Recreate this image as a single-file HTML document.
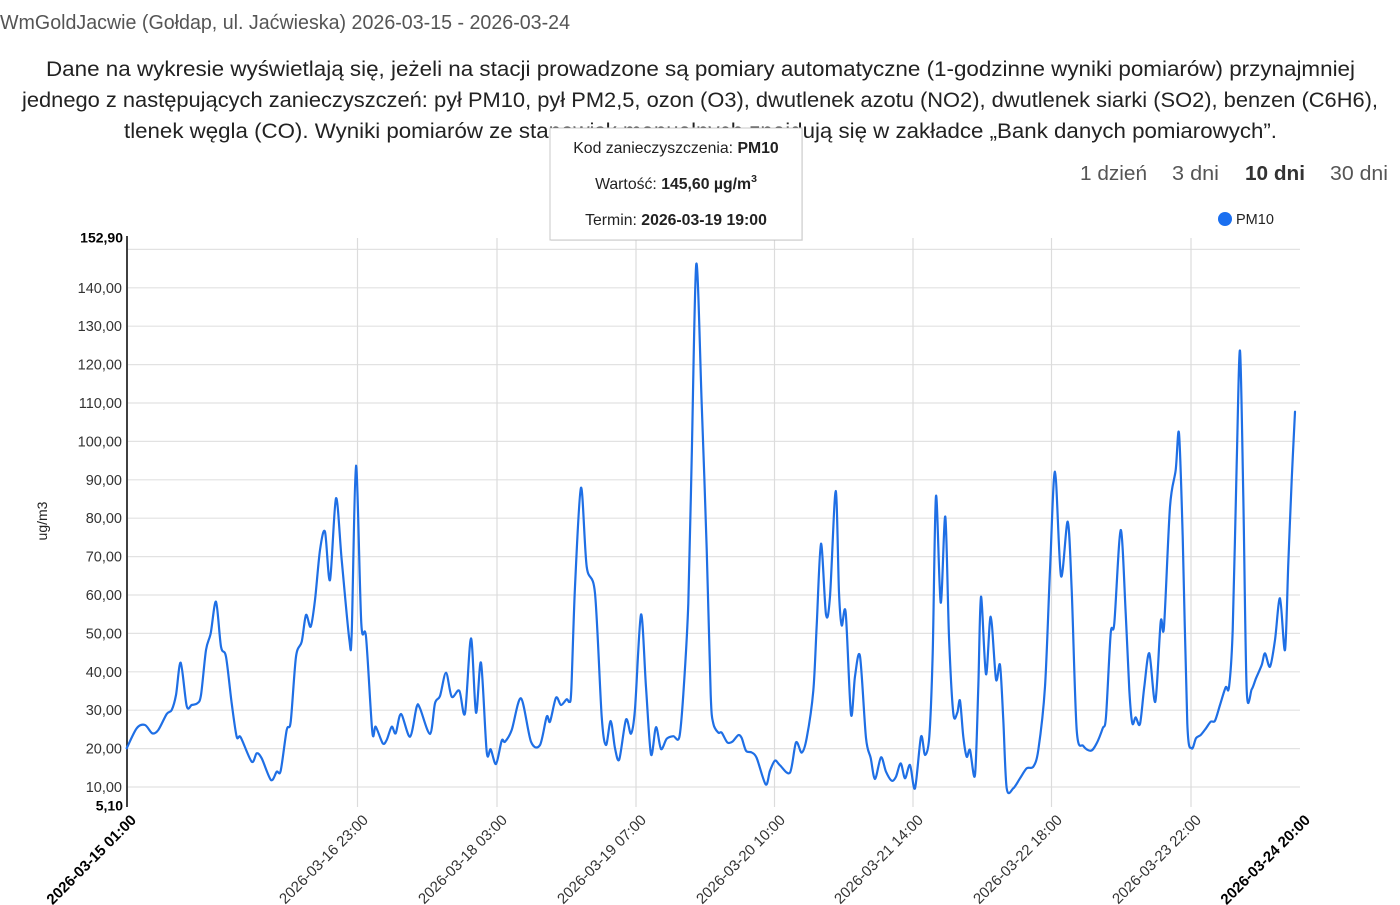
<!DOCTYPE html>
<html>
<head>
<meta charset="utf-8">
<style>
  html,body{margin:0;padding:0;background:#fff;}
  body{width:1400px;height:905px;overflow:hidden;}
  svg{display:block;}
  .t{font-family:"Liberation Sans",Arial,sans-serif;}
</style>
</head>
<body>
<svg width="1400" height="905" viewBox="0 0 1400 905" xmlns="http://www.w3.org/2000/svg">
  <!-- Header texts -->
  <text class="t" x="0" y="29" font-size="20" fill="#555" textLength="570" lengthAdjust="spacingAndGlyphs">WmGoldJacwie (Gołdap, ul. Jaćwieska) 2026-03-15 - 2026-03-24</text>
  <text class="t" x="46" y="76" font-size="21" fill="#222" textLength="1309" lengthAdjust="spacingAndGlyphs">Dane na wykresie wyświetlają się, jeżeli na stacji prowadzone są pomiary automatyczne (1-godzinne wyniki pomiarów) przynajmniej</text>
  <text class="t" x="22" y="107" font-size="21" fill="#222" textLength="1356" lengthAdjust="spacingAndGlyphs">jednego z następujących zanieczyszczeń: pył PM10, pył PM2,5, ozon (O3), dwutlenek azotu (NO2), dwutlenek siarki (SO2), benzen (C6H6),</text>
  <text class="t" x="124" y="138" font-size="21" fill="#222" textLength="1153" lengthAdjust="spacingAndGlyphs">tlenek węgla (CO). Wyniki pomiarów ze stanowisk manualnych znajdują się w zakładce „Bank danych pomiarowych”.</text>

  <!-- Range selector -->
  <text class="t" x="1080" y="180" font-size="20" fill="#555" textLength="67" lengthAdjust="spacingAndGlyphs">1 dzień</text>
  <text class="t" x="1172" y="180" font-size="20" fill="#555" textLength="47" lengthAdjust="spacingAndGlyphs">3 dni</text>
  <text class="t" x="1245" y="180" font-size="20" fill="#333" font-weight="bold" textLength="60" lengthAdjust="spacingAndGlyphs">10 dni</text>
  <text class="t" x="1330" y="180" font-size="20" fill="#555" textLength="58" lengthAdjust="spacingAndGlyphs">30 dni</text>

  <!-- Legend -->
  <circle cx="1225" cy="219" r="7" fill="#1a6ff0"/>
  <text class="t" x="1236" y="224" font-size="14.5" fill="#222">PM10</text>

  <!-- Horizontal gridlines -->
  <g stroke="#e2e2e2" stroke-width="1.2">
    <line x1="128" y1="249.4" x2="1300" y2="249.4"/>
    <line x1="128" y1="287.8" x2="1300" y2="287.8"/>
    <line x1="128" y1="326.2" x2="1300" y2="326.2"/>
    <line x1="128" y1="364.6" x2="1300" y2="364.6"/>
    <line x1="128" y1="403" x2="1300" y2="403"/>
    <line x1="128" y1="441.4" x2="1300" y2="441.4"/>
    <line x1="128" y1="479.8" x2="1300" y2="479.8"/>
    <line x1="128" y1="518.2" x2="1300" y2="518.2"/>
    <line x1="128" y1="556.6" x2="1300" y2="556.6"/>
    <line x1="128" y1="595" x2="1300" y2="595"/>
    <line x1="128" y1="633.4" x2="1300" y2="633.4"/>
    <line x1="128" y1="671.8" x2="1300" y2="671.8"/>
    <line x1="128" y1="710.2" x2="1300" y2="710.2"/>
    <line x1="128" y1="748.6" x2="1300" y2="748.6"/>
    <line x1="128" y1="787" x2="1300" y2="787"/>
  </g>
  <!-- Vertical gridlines -->
  <g stroke="#dcdcdc" stroke-width="1.2">
    <line x1="357.5" y1="238" x2="357.5" y2="807"/>
    <line x1="497" y1="238" x2="497" y2="807"/>
    <line x1="636" y1="238" x2="636" y2="807"/>
    <line x1="774.5" y1="238" x2="774.5" y2="807"/>
    <line x1="913" y1="238" x2="913" y2="807"/>
    <line x1="1051.5" y1="238" x2="1051.5" y2="807"/>
    <line x1="1191" y1="238" x2="1191" y2="807"/>
  </g>

  <!-- Y axis -->
  <line x1="127" y1="236" x2="127" y2="807" stroke="#111" stroke-width="1.6"/>
  <g class="t" font-size="14.5" fill="#333" text-anchor="end">
    <text x="122" y="292.8">140,00</text>
    <text x="122" y="331.2">130,00</text>
    <text x="122" y="369.6">120,00</text>
    <text x="122" y="408">110,00</text>
    <text x="122" y="446.4">100,00</text>
    <text x="122" y="484.8">90,00</text>
    <text x="122" y="523.2">80,00</text>
    <text x="122" y="561.6">70,00</text>
    <text x="122" y="600">60,00</text>
    <text x="122" y="638.4">50,00</text>
    <text x="122" y="676.8">40,00</text>
    <text x="122" y="715.2">30,00</text>
    <text x="122" y="753.6">20,00</text>
    <text x="122" y="792">10,00</text>
  </g>
  <g class="t" font-size="14" fill="#000" font-weight="bold" text-anchor="end">
    <text x="123" y="242.5">152,90</text>
    <text x="123" y="810.5">5,10</text>
  </g>
  <text class="t" font-size="14" fill="#222" text-anchor="middle" transform="translate(47,521) rotate(-90)">ug/m3</text>

  <!-- X labels -->
  <g class="t" font-size="15" fill="#333" text-anchor="end">
    <text transform="translate(137,821) rotate(-45)" font-weight="bold" fill="#000">2026-03-15 01:00</text>
    <text transform="translate(369,821) rotate(-45)">2026-03-16 23:00</text>
    <text transform="translate(508,821) rotate(-45)">2026-03-18 03:00</text>
    <text transform="translate(647,821) rotate(-45)">2026-03-19 07:00</text>
    <text transform="translate(786,821) rotate(-45)">2026-03-20 10:00</text>
    <text transform="translate(924,821) rotate(-45)">2026-03-21 14:00</text>
    <text transform="translate(1063,821) rotate(-45)">2026-03-22 18:00</text>
    <text transform="translate(1202,821) rotate(-45)">2026-03-23 22:00</text>
    <text transform="translate(1311,821) rotate(-45)" font-weight="bold" fill="#000">2026-03-24 20:00</text>
  </g>

  <!-- Series -->
  <polyline id="series" fill="none" stroke="#1f6fe5" stroke-width="2.2" stroke-linejoin="round" stroke-linecap="round"
    points="126.7,748.3 136.7,728.3 145,725 152.3,733.3 158.3,730 166.7,714 171.7,710 176,695 180.7,662.7 186.7,706 191.7,705 197.3,703.3 201,695 206,650 210.7,633.3 216,601.7 221,646.7 226,656.7 231.7,703.3 236.7,736.7 240.7,737.3 251.7,761.7 256.7,753.3 261.7,758.3 271,780 276.7,771.7 280.7,770.7 286.7,730 290.7,721.7 296,656.7 301.7,641.7 306,615 310.7,626.7 315,600 320,550 325,531.7 330,580 336,498.3 341.7,560 349.3,639.3 351.7,633.3 356,465.7 361.3,623.3 366,636.7 372.3,731.7 375.7,726.7 382.7,743.3 386.7,740 391.7,726.7 395.7,733.3 401,714 410,736.7 416.7,706.7 420,708.3 430,734 435,703.3 440,696 446,672.7 451.7,696.7 459.3,690.7 465,713.3 471,638.3 476,712.7 481,662.7 486.7,751.7 490.7,749.3 496,764 501.7,740.7 505,741.7 511.7,730 521,698.3 531,741.7 540,745 546.7,716.7 550,721.7 556,697.7 561,705 566.7,699.3 569.3,701.7 571.3,690 575,586.7 581,487.7 586.7,566.7 595,593.3 601.7,716.7 606,745 610.7,721 615,748.3 619.3,759.3 626,719.6 631,733.7 635,709 641,614.5 646,687.2 651,754.4 656,727.2 661,749 666.7,738.8 673.3,736.2 679.3,737.3 683.3,694.5 688.3,603.6 691.7,458.3 696.3,264 701.7,403.8 706.7,549.1 710.7,694.5 713.3,723.5 718.3,732.6 721.7,732.6 727.3,742.4 732.3,741.7 738.3,735.1 741.7,738 746,750.7 751.7,752.5 756.7,758 765.7,784.5 770,770.7 775,760.6 780,765.3 790,772.6 796,742.4 801.7,752.6 806.7,738 813.3,690.8 816.7,625.4 821,543.7 826,614.5 830,596.4 835.7,491 839,592.7 841.7,625.4 845.7,612.7 851,714.4 855,676.3 860,656.3 866,738 870.7,758 875,779 881,757.3 886,771.7 891.7,780.7 896,776.7 900.7,763.3 905,778.3 910,765 915,788.3 921,736.7 925,755 929.3,736.7 932.7,653.3 936,496 940.7,602.7 945.3,516.7 949,636.7 953.3,713.3 957.3,712.7 960,700.7 963.3,736.7 966.7,756.7 970,750 975,775 978.3,686.7 981,596.7 986,674.3 990.7,616.7 996,679.3 1000,665 1003.3,720 1006.7,788.3 1013.3,788.3 1020,778.3 1026.7,768.3 1033.3,766.7 1038.3,750 1045,686.7 1050,570 1055,471.7 1061,576 1067.7,521.7 1071.7,590 1076.7,730 1083.3,746 1091,750.7 1096.7,743.3 1102.7,728.3 1106,716.7 1110.7,633.3 1114.3,623.3 1120.7,530 1125.7,613.3 1129.3,690 1132.3,723.3 1135.7,717.3 1140,724 1144.3,686.7 1149.3,653.3 1155.3,701.7 1160.7,621.7 1164,626.7 1170,506.7 1175.7,470 1179,433.3 1182.7,536.7 1187.3,723.3 1191.7,748.3 1196,738.3 1200.7,735 1206,728.3 1210.7,721.7 1215,720.7 1220,705 1225.7,687.3 1229,687.3 1232.7,630 1236.7,463.3 1240,350.7 1243.3,496.7 1246.7,690 1251.7,689.3 1256,678.3 1261.7,665 1265,653.3 1270,666.7 1275,640 1280,598.3 1285,650 1288.3,563.3 1291.7,480 1295,411.7"/>

  <!-- Tooltip -->
  <rect x="551" y="129" width="252" height="112" fill="#000" opacity="0.06"/>
  <rect x="550" y="128" width="252" height="112" fill="#fff" stroke="#c8c8c8" stroke-width="1"/>
  <g class="t" font-size="15.8" fill="#222" text-anchor="middle">
    <text x="676" y="153">Kod zanieczyszczenia: <tspan font-weight="bold">PM10</tspan></text>
    <text x="676" y="189">Wartość: <tspan font-weight="bold">145,60 µg/m</tspan><tspan font-weight="bold" font-size="10.5" dy="-7">3</tspan></text>
    <text x="676" y="225">Termin: <tspan font-weight="bold">2026-03-19 19:00</tspan></text>
  </g>
</svg>
<script>
(function(){
  var pl=document.getElementById('series');
  if(!pl) return;
  var raw=pl.getAttribute('points').trim().split(/\s+/).map(function(s){var a=s.split(',');return [parseFloat(a[0]),parseFloat(a[1])];});
  var n=raw.length, t=0.9;
  var d='M'+raw[0][0]+' '+raw[0][1];
  for(var i=0;i<n-1;i++){
    var p0=raw[i-1]||raw[i], p1=raw[i], p2=raw[i+1], p3=raw[i+2]||raw[i+1];
    var c1x=p1[0]+(p2[0]-p0[0])/6*t, c1y=p1[1]+(p2[1]-p0[1])/6*t;
    var c2x=p2[0]-(p3[0]-p1[0])/6*t, c2y=p2[1]-(p3[1]-p1[1])/6*t;
    d+=' C'+c1x.toFixed(2)+' '+c1y.toFixed(2)+' '+c2x.toFixed(2)+' '+c2y.toFixed(2)+' '+p2[0]+' '+p2[1];
  }
  var ns='http://www.w3.org/2000/svg';
  var p=document.createElementNS(ns,'path');
  p.setAttribute('d',d);
  p.setAttribute('fill','none');
  p.setAttribute('stroke','#1f6fe5');
  p.setAttribute('stroke-width','2.2');
  p.setAttribute('stroke-linejoin','round');
  p.setAttribute('stroke-linecap','round');
  pl.parentNode.insertBefore(p,pl);
  pl.parentNode.removeChild(pl);
})();
</script>
</body>
</html>
